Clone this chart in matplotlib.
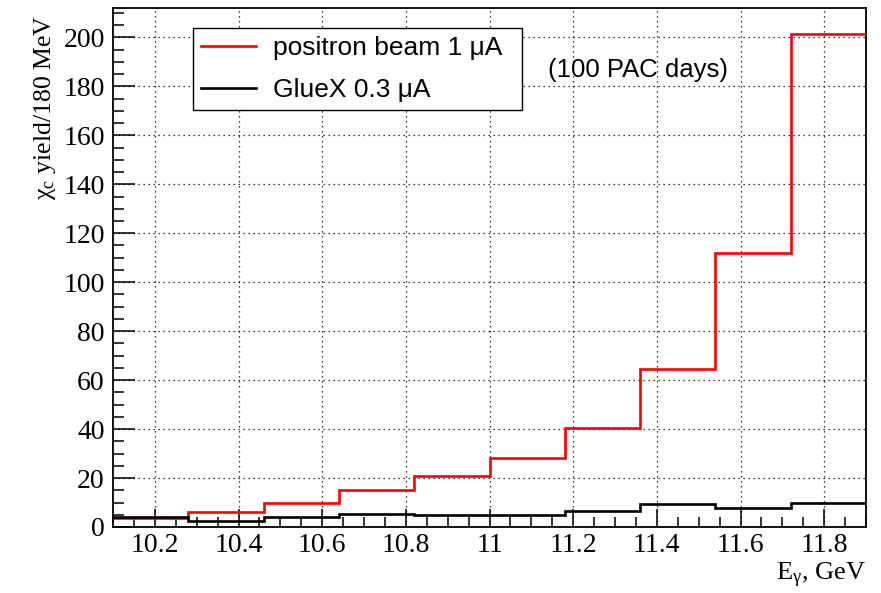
import matplotlib
matplotlib.use("Agg")
import matplotlib.pyplot as plt
from matplotlib.ticker import MultipleLocator
import numpy as np

# Data
bin_edges = [10.1, 10.28, 10.46, 10.64, 10.82, 11.0, 11.18, 11.36, 11.54, 11.72, 11.9]
positron_yield = [3.8, 6.0, 10.0, 15.0, 20.7, 28.0, 40.3, 64.4, 112.0, 201.5]
gluex_yield = [3.9, 2.3, 3.9, 5.5, 4.8, 5.0, 6.5, 9.5, 7.8, 9.6]
series_labels = ["positron beam 1 \u03bcA", "GlueX 0.3 \u03bcA"]
x_ticks = [10.2, 10.4, 10.6, 10.8, 11.0, 11.2, 11.4, 11.6, 11.8]
x_tick_labels = ["10.2", "10.4", "10.6", "10.8", "11", "11.2", "11.4", "11.6", "11.8"]
y_ticks = [0, 20, 40, 60, 80, 100, 120, 140, 160, 180, 200]

plt.rcParams['font.family'] = ['Liberation Serif', 'DejaVu Serif']
plt.rcParams['mathtext.fontset'] = 'custom'
plt.rcParams['mathtext.rm'] = 'Liberation Serif'
plt.rcParams['mathtext.it'] = 'Liberation Serif:italic'
plt.rcParams['mathtext.default'] = 'regular'

W, H = 881, 593
fig = plt.figure(figsize=(W / 100, H / 100), dpi=100)
ax = fig.add_axes([113 / W, 1 - 527 / H, (866 - 113) / W, (527 - 8) / H])

ax.stairs(positron_yield, bin_edges, baseline=None, color='#ff0000', lw=1.9, label=series_labels[0], zorder=3)
ax.stairs(gluex_yield, bin_edges, baseline=None, color='black', lw=1.9, label=series_labels[1], zorder=4)

ax.set_xlim(10.1, 11.9)
ax.set_ylim(0, 212)
ax.set_xticks(x_ticks, x_tick_labels, fontsize=20, family='Liberation Serif')
ax.set_yticks(y_ticks)
ax.xaxis.set_minor_locator(MultipleLocator(0.05))
ax.yaxis.set_minor_locator(MultipleLocator(5))

ax.grid(True, which='major', color='black', linestyle=(0, (1, 3)), linewidth=0.9)
ax.set_axisbelow(True)

ax.tick_params(axis='both', which='major', labelsize=20)
ax.tick_params(axis='y', which='major', direction='in', length=16, width=1.1, pad=6)
ax.tick_params(axis='y', which='minor', direction='in', length=8, width=1.1)
ax.tick_params(axis='x', which='major', direction='in', length=13, width=1.1, pad=4)
ax.tick_params(axis='x', which='minor', direction='in', length=7, width=1.1)
for s in ax.spines.values():
    s.set_linewidth(1.3)

fig.text(45 / W, 1 - 15 / H, '\u03c7$_{c}$ yield/180 MeV', rotation=90,
         ha='center', va='top', fontsize=18.5, family='Liberation Serif')
fig.text(866 / W, 1 - 575 / H, 'E$_{\u03b3}$, GeV', ha='right', va='center',
         fontsize=19, family='Liberation Serif')

fig.text(548 / W, 1 - 70 / H, '(100 PAC days)', ha='left', va='center',
         fontsize=18.5, family='Liberation Sans')

leg = ax.legend(loc='upper left',
                bbox_to_anchor=(193 / W, 1 - 110 / H, (522 - 193) / W, (110 - 28) / H),
                bbox_transform=fig.transFigure, mode='expand',
                prop={'family': 'Liberation Sans', 'size': 19},
                frameon=True, fancybox=False, edgecolor='black', framealpha=1,
                handlelength=2.1, handletextpad=0.65, borderpad=0.3,
                labelspacing=0.7, borderaxespad=0)
leg.get_frame().set_linewidth(1.0)
leg._legend_box.align = 'left'
for l in leg.get_lines():
    l.set_linewidth(1.9)

fig.savefig('out.png', dpi=100)
